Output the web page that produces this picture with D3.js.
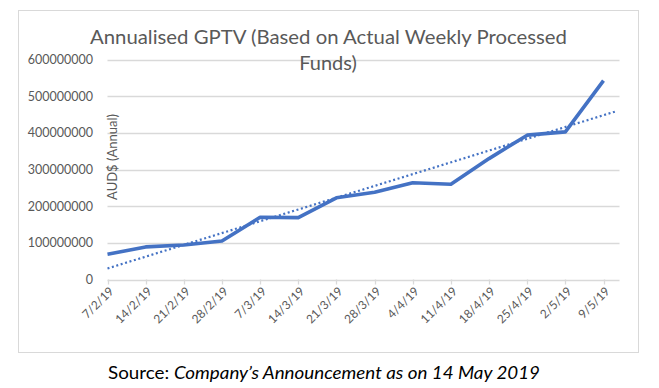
<!DOCTYPE html>
<html><head><meta charset="utf-8">
<script src="https://cdn.jsdelivr.net/npm/d3@7"></script>
<style>body{margin:0;background:#fff}svg{display:block}text{font-family:Lato,"Open Sans",sans-serif}</style>
</head><body><svg id="c" width="659" height="388"></svg>
<script>
const categories = ["7/2/19","14/2/19","21/2/19","28/2/19","7/3/19","14/3/19","21/3/19","28/3/19","4/4/19","11/4/19","18/4/19","25/4/19","2/5/19","9/5/19"];
const gptv = [69e6, 89e6, 94e6, 105e6, 170e6, 169e6, 223e6, 238e6, 264e6, 260e6, 330e6, 394e6, 403e6, 543e6];
const yTicks = [0,100000000,200000000,300000000,400000000,500000000,600000000];
const titleLines = ["Annualised GPTV (Based on Actual Weekly Processed","Funds)"];
const yTitle = "AUD$ (Annual)";

const svg = d3.select("#c");
const grey = "#595959", blue = "#4472C4", grid = "#d9d9d9";

// chart border
svg.append("rect").attr("x",18.5).attr("y",10.5).attr("width",620).attr("height",342)
  .attr("fill","#fff").attr("stroke","#d9d9d9").attr("stroke-width",1);

const x = d3.scaleLinear().domain([0, 13]).range([107.5, 603.5]);
const xEnd = 619.5;
const y = d3.scaleLinear().domain([0, 600e6]).range([279.5, 59.7]);

// gridlines
svg.append("g").selectAll("line").data(yTicks).join("line")
  .attr("x1",107.5).attr("x2",xEnd).attr("y1",d=>Math.round(y(d))+0.5).attr("y2",d=>Math.round(y(d))+0.5)
  .attr("stroke",grid).attr("stroke-width",1.3);

// y tick labels
svg.append("g").selectAll("text").data(yTicks).join("text")
  .attr("x",93).attr("y",d=>y(d)+4.5).attr("text-anchor","end")
  .attr("font-size",12.5).attr("fill",grey).text(d=>String(d));

// x ticks
svg.append("g").selectAll("line").data(categories).join("line")
  .attr("x1",(d,i)=>Math.round(x(i))+0.5).attr("x2",(d,i)=>Math.round(x(i))+0.5)
  .attr("y1",279.5).attr("y2",284.5).attr("stroke",grid).attr("stroke-width",1.3);

// x labels
svg.append("g").selectAll("text").data(categories).join("text")
  .attr("text-anchor","end").attr("font-size",12).attr("fill",grey)
  .attr("transform",(d,i)=>`translate(${x(i)+7},${292}) rotate(-45)`)
  .text(d=>d);

// trendline (linear least squares, extended to axis end)
const n = gptv.length;
const mx = d3.mean(gptv,(d,i)=>i), my = d3.mean(gptv);
const slope = d3.sum(gptv,(d,i)=>(i-mx)*(d-my)) / d3.sum(gptv,(d,i)=>(i-mx)*(i-mx));
const icpt = my - slope*mx;
const tEnd = x.invert(617);
svg.append("path")
  .attr("d", d3.line()([[x(0), y(icpt)],[x(tEnd), y(icpt+slope*tEnd)]]))
  .attr("stroke",blue).attr("stroke-width",2.2).attr("stroke-dasharray","2,2.6").attr("fill","none");

// main line
svg.append("path").datum(gptv)
  .attr("d", d3.line().x((d,i)=>x(i)).y(d=>y(d)))
  .attr("stroke",blue).attr("stroke-width",3.6).attr("fill","none")
  .attr("stroke-linejoin","round");

// y axis title
svg.append("text").attr("transform","translate(117,157) rotate(-90)")
  .attr("text-anchor","middle").attr("font-size",13).attr("fill",grey).text(yTitle);

// title
svg.append("text").attr("x",90).attr("y",44).attr("font-size",20).attr("fill",grey)
  .attr("textLength",477).attr("lengthAdjust","spacingAndGlyphs").text(titleLines[0]);
svg.append("text").attr("x",328).attr("y",70).attr("text-anchor","middle").attr("font-size",20).attr("fill",grey)
  .text(titleLines[1]);

// source
const src = svg.append("text").attr("x",108).attr("y",379).attr("font-size",17.5).attr("fill","#000")
  .attr("textLength",432).attr("lengthAdjust","spacingAndGlyphs");
src.append("tspan").text("Source: ");
src.append("tspan").attr("font-style","italic").text("Company\u2019s Announcement as on 14 May 2019");
</script></body></html>
